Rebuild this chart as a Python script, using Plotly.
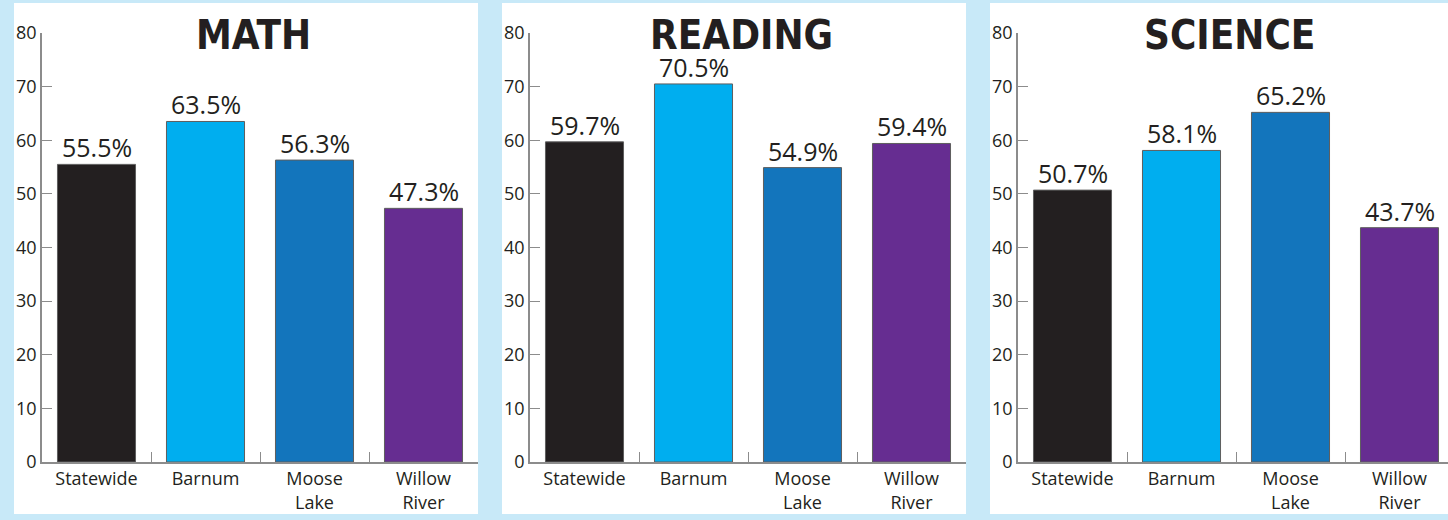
import plotly.graph_objects as go

# ---- data ----
categories = ["Statewide", "Barnum", "Moose Lake", "Willow River"]
tick_labels = ["Statewide", "Barnum", "Moose<br>Lake", "Willow<br>River"]
subjects = ["MATH", "READING", "SCIENCE"]
math_vals = [55.5, 63.5, 56.3, 47.3]
reading_vals = [59.7, 70.5, 54.9, 59.4]
science_vals = [50.7, 58.1, 65.2, 43.7]
y_ticks = [0, 10, 20, 30, 40, 50, 60, 70, 80]

# ---- style ----
W, H = 1448, 520
bar_colors = ["#231f20", "#00aeef", "#1375bc", "#662d91"]
bg_blue = "#c8e9f8"
text_dark = "#231f20"
axis_gray = "#8c8c8c"
body_font = "Open Sans, Noto Sans, sans-serif"
title_font = "Liberation Sans Narrow, DejaVu Sans Condensed, Arial Narrow, sans-serif"

panel_left = [14, 502, 990]
panel_right = [478, 966, 1450]
axis_left = [42, 530, 1018]
cat_w = 109
y_bottom_px, y_top_px = 462, 33

series = [math_vals, reading_vals, science_vals]

fig = go.Figure()
layout = dict(
    width=W, height=H, autosize=False,
    margin=dict(l=0, r=0, t=0, b=0, pad=0, autoexpand=False),
    paper_bgcolor=bg_blue,
    plot_bgcolor="rgba(0,0,0,0)",
    showlegend=False,
    bargap=0.284,
    shapes=[], annotations=[],
)

for i, (subj, vals) in enumerate(zip(subjects, series)):
    sfx = "" if i == 0 else str(i + 1)
    fig.add_trace(go.Bar(
        x=categories, y=vals,
        xaxis="x" + sfx, yaxis="y" + sfx,
        marker=dict(color=bar_colors, line=dict(color="#5e5e5e", width=1)),
        hoverinfo="skip",
    ))
    # value labels sitting just above each bar
    for cat, v in zip(categories, vals):
        layout["annotations"].append(dict(
            text=f"{v:.1f}%", x=cat, y=v,
            xref="x" + sfx, yref="y" + sfx,
            xanchor="center", yanchor="bottom", yshift=-2,
            showarrow=False,
            font=dict(family=body_font, size=25, color=text_dark),
        ))
    x0 = axis_left[i]
    x1 = min(x0 + 4 * cat_w, W)
    rng_hi = -0.5 + (x1 - x0) / cat_w
    layout["xaxis" + sfx] = dict(
        domain=[x0 / W, x1 / W], anchor="y" + sfx,
        type="category", range=[-0.5, rng_hi], automargin=False,
        tickvals=categories, ticktext=tick_labels,
        tickson="boundaries", ticks="inside", ticklen=10, tickwidth=1,
        tickcolor=axis_gray, showline=True, linecolor=axis_gray, linewidth=1.5,
        showgrid=False, zeroline=False,
        tickfont=dict(family=body_font, size=18, color=text_dark),
    )
    layout["yaxis" + sfx] = dict(
        domain=[(H - y_bottom_px) / H, (H - y_top_px) / H], anchor="x" + sfx,
        range=[0, 80], tickvals=y_ticks, automargin=False,
        ticks="inside", ticklen=10, tickwidth=1, tickcolor=axis_gray,
        showline=True, linecolor=axis_gray, linewidth=1.5,
        showgrid=False, zeroline=False,
        tickfont=dict(family=body_font, size=18, color=text_dark),
    )
    layout["shapes"].append(dict(
        type="rect", xref="paper", yref="paper", layer="below",
        x0=panel_left[i] / W, x1=panel_right[i] / W,
        y0=(H - 514) / H, y1=(H - 3) / H,
        fillcolor="white", line=dict(width=0),
    ))
    layout["annotations"].append(dict(
        text=f"<b>{subj}</b>", xref="paper", yref="paper",
        x=(panel_left[i] + 239) / W, y=(H - 10) / H,
        xanchor="center", yanchor="top", showarrow=False,
        font=dict(family=title_font, size=40, color=text_dark),
    ))

fig.update_layout(**layout)

page_fix = (
    "document.documentElement.style.margin='0';"
    "document.documentElement.style.overflow='hidden';"
    "document.body.style.margin='0';"
    "document.body.style.overflow='hidden';"
    "var gd=document.getElementById('{plot_id}');"
    "gd.style.position='fixed';gd.style.left='0px';gd.style.top='0px';"
)
fig.write_html(
    "out.html",
    config={"displayModeBar": False},
    post_script=page_fix,
)
